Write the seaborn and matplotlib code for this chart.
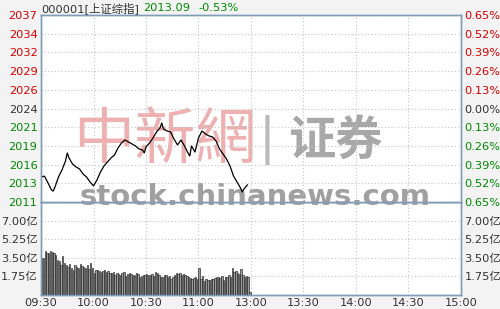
import matplotlib
matplotlib.use('Agg')
import matplotlib.pyplot as plt
import seaborn as sns
import numpy as np

# ---------------- data ----------------
prev_close = 2023.82
last_price = "2013.09"
change_pct = "-0.53%"
title_code = "000001[上证综指]"

price_minutes = [0, 2, 4, 6, 7, 8, 10, 12, 14, 15, 16, 18, 20, 22, 24, 26, 28, 30,
                 32, 34, 36, 38, 40, 42, 44, 46, 48, 50, 52, 54, 56, 58, 59, 60,
                 62, 64, 66, 68, 69, 70, 72, 74, 76, 78, 80, 82, 84, 85, 86, 88,
                 90, 92, 94, 96, 98, 100, 102, 104, 106, 108, 110, 112, 114, 115,
                 116, 118]
price_values = [2014.19, 2014.30, 2013.34, 2012.36, 2012.20, 2012.78, 2014.19,
                2015.17, 2016.44, 2017.56, 2016.86, 2016.02, 2015.60, 2015.32,
                2014.61, 2014.19, 2013.49, 2012.93, 2013.77, 2014.89, 2015.74,
                2016.30, 2016.86, 2017.28, 2018.27, 2018.97, 2019.39, 2019.11,
                2018.83, 2018.55, 2018.13, 2017.99, 2017.57, 2018.41, 2018.97,
                2019.67, 2020.52, 2021.08, 2021.78, 2020.94, 2020.66, 2020.52,
                2019.53, 2018.69, 2019.39, 2018.55, 2017.56, 2017.14, 2018.55,
                2017.70, 2019.68, 2020.66, 2020.24, 2019.96, 2019.82, 2019.25,
                2018.13, 2017.43, 2016.72, 2015.74, 2014.33, 2013.49, 2012.64,
                2012.08, 2012.50, 2013.09]

volume_yi = [3.50, 3.52, 4.14, 3.98, 3.98, 4.14, 4.08, 3.98, 3.76, 3.29,
             3.23, 2.82, 3.67, 3.00, 2.82, 2.67, 2.95, 2.51, 2.35, 2.82,
             2.67, 2.51, 2.92, 2.75, 2.67, 2.51, 2.82, 2.42, 3.00, 2.51,
             2.04, 2.35, 2.35, 2.29, 2.20, 2.29, 2.35, 2.20, 2.29, 2.04,
             2.10, 2.20, 1.88, 2.04, 1.98, 1.88, 2.10, 2.15, 1.79, 1.98,
             2.04, 1.98, 1.88, 1.88, 2.10, 1.95, 1.66, 1.79, 1.91, 1.85,
             1.98, 1.88, 1.85, 1.98, 1.79, 2.15, 2.10, 1.88, 1.73, 1.66,
             1.85, 1.91, 1.66, 1.79, 1.54, 1.66, 1.85, 2.04, 1.98, 2.10,
             1.88, 1.98, 1.85, 1.79, 1.73, 1.60, 1.47, 1.57, 1.66, 1.47,
             2.54, 1.47, 1.79, 1.35, 1.54, 1.41, 1.41, 1.54, 1.47, 1.60,
             1.73, 1.66, 1.60, 1.79, 1.41, 1.66, 1.73, 1.85, 1.66, 2.54,
             2.15, 2.29, 2.10, 1.98, 2.45, 1.88, 1.73, 1.79, 1.66, 0.31]
volume_minutes = list(range(len(volume_yi)))

pct_ticks = [0.65, 0.52, 0.39, 0.26, 0.13, 0.00, -0.13, -0.26, -0.39, -0.52, -0.65]
price_labels = ["2037", "2034", "2032", "2029", "2026", "2024",
                "2021", "2019", "2016", "2013", "2011"]
pct_labels = ["0.65%", "0.52%", "0.39%", "0.26%", "0.13%", "0.00%",
              "0.13%", "0.26%", "0.39%", "0.52%", "0.65%"]
vol_ticks = [1.75, 3.50, 5.25, 7.00]
vol_labels = ["1.75亿", "3.50亿", "5.25亿", "7.00亿"]
vol_max = 8.75
time_ticks = [0, 30, 60, 90, 120, 150, 180, 210, 240]
time_labels = ["09:30", "10:00", "10:30", "11:00", "13:00", "13:30",
               "14:00", "14:30", "15:00"]

# ---------------- style ----------------
sns.set_theme(style='white')
plt.rcParams['font.family'] = ['DejaVu Sans', 'Noto Sans CJK SC']

RED = '#d40000'
GREEN = '#008a00'
DARK = '#333333'
BORDER = '#7f9db9'
GRID = '#c4c4c4'
FS = 8.2

fig = plt.figure(figsize=(5, 3.09), dpi=100, facecolor='#f3f3f3')
axp = fig.add_axes([41 / 500, 1 - 202 / 309, 420 / 500, 187 / 309], zorder=2)
axv = fig.add_axes([41 / 500, 1 - 295 / 309, 420 / 500, 93 / 309], zorder=1)
for ax in (axp, axv):
    ax.set_facecolor('white')

# price line
sns.lineplot(x=price_minutes, y=price_values, ax=axp, color='black', lw=0.9, zorder=3)
price_ticks = [prev_close * (1 + p / 100) for p in pct_ticks]
ylo, yhi = prev_close * (1 - 0.0065), prev_close * (1 + 0.0065)
axp.set_ylim(ylo, yhi)
axp.set_xlim(0, 240)
axp.set_yticks(price_ticks)
axp.set_yticklabels(price_labels)
axp.set_xticks(time_ticks)
axp.set_xticklabels([])
axp.grid(True, color=GRID, linestyle=(0, (1, 2)), lw=0.8)
axp.set_xlabel('')
axp.set_ylabel('')

def colour_for(p):
    if p > 0:
        return RED
    if p < 0:
        return GREEN
    return DARK

axr = axp.twinx()
axr.set_ylim(ylo, yhi)
axr.set_yticks(price_ticks)
axr.set_yticklabels(pct_labels)
axr.grid(False)
for lab, p in zip(axp.get_yticklabels(), pct_ticks):
    lab.set_color(colour_for(p))
for lab, p in zip(axr.get_yticklabels(), pct_ticks):
    lab.set_color(colour_for(p))

# volume bars
axv.bar(volume_minutes, volume_yi, width=0.8, align='edge', color='#9a9a9a',
        edgecolor='#202020', linewidth=0.45, zorder=3)
axv.set_xlim(0, 240)
axv.set_ylim(0, vol_max)
axv.set_yticks(vol_ticks)
axv.set_yticklabels(vol_labels)
axv.set_xticks(time_ticks)
axv.set_xticklabels(time_labels)
axv.grid(True, color=GRID, linestyle=(0, (1, 2)), lw=0.8)
axvr = axv.twinx()
axvr.set_ylim(0, vol_max)
axvr.set_yticks(vol_ticks)
axvr.set_yticklabels(vol_labels)
axvr.grid(False)

for ax in (axp, axr, axv, axvr):
    ax.tick_params(axis='both', length=0, pad=2.5, labelsize=FS, colors=DARK)
    for s in ax.spines.values():
        s.set_color(BORDER)
        s.set_linewidth(1.0)
for lab, p in zip(axp.get_yticklabels(), pct_ticks):
    lab.set_color(colour_for(p))
for lab, p in zip(axr.get_yticklabels(), pct_ticks):
    lab.set_color(colour_for(p))

# watermark
wm = dict(transform=axp.transAxes, clip_on=False, zorder=0.5, ha='center')
axp.text(0.295, 0.33, '中新網', fontsize=44, color='#eeb0b0', va='center',
         family=['Noto Sans CJK TC'], **wm)
axp.text(0.538, 0.33, '|', fontsize=36, color='#bbbbbb', va='center', **wm)
axp.text(0.70, 0.33, '证券', fontsize=34, color='#a8a8a8', va='center',
         fontweight='bold', family=['Noto Sans CJK SC'], **wm)
axp.text(0.51, -0.016, 'stock.chinanews.com', fontsize=21, color='#a0a0a0',
         va='baseline', fontweight='bold', **wm)

# header
fig.text(41 / 500, 1 - 8 / 309, title_code, fontsize=FS, color=DARK, va='center')
fig.text(143 / 500, 1 - 8 / 309, last_price, fontsize=FS, color=GREEN, va='center')
fig.text(198 / 500, 1 - 8 / 309, change_pct, fontsize=FS, color=GREEN, va='center')

fig.savefig('out.png', dpi=100, facecolor=fig.get_facecolor())
